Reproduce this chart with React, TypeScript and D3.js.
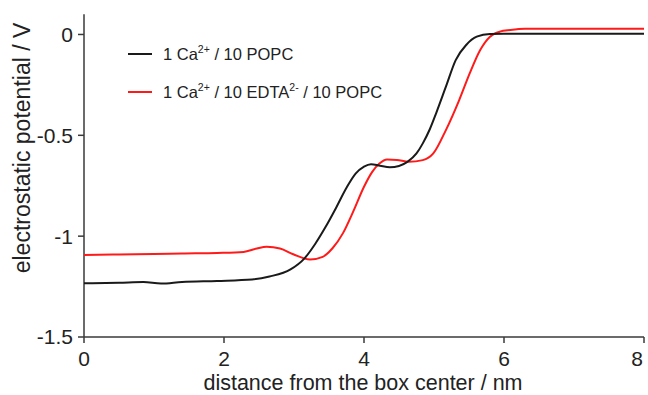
import React from "react";
import * as d3 from "d3";

const blackX = [0, 0.5, 0.85, 1.1, 1.4, 1.9, 2.4, 2.65, 2.95, 3.15, 3.3, 3.45, 3.6, 3.75, 3.88, 4.0, 4.1, 4.23, 4.37, 4.5, 4.62, 4.75, 4.84, 4.94, 5.03, 5.17, 5.31, 5.46, 5.61, 5.8, 6.0, 8];
const blackY = [-1.234, -1.231, -1.227, -1.235, -1.227, -1.222, -1.215, -1.2, -1.165, -1.11, -1.04, -0.955, -0.86, -0.76, -0.69, -0.655, -0.643, -0.651, -0.658, -0.652, -0.632, -0.59, -0.54, -0.47, -0.391, -0.259, -0.127, -0.052, -0.011, 0.002, 0.003, 0.003];

const redX = [0, 0.5, 1.0, 1.4, 1.9, 2.28, 2.47, 2.61, 2.8, 2.99, 3.23, 3.41, 3.55, 3.7, 3.85, 4.0, 4.12, 4.22, 4.33, 4.47, 4.64, 4.84, 4.99, 5.17, 5.36, 5.51, 5.66, 5.8, 5.94, 6.09, 6.3, 8];
const redY = [-1.094, -1.091, -1.089, -1.086, -1.083, -1.078, -1.061, -1.053, -1.061, -1.09, -1.116, -1.103, -1.06, -0.985, -0.875, -0.755, -0.68, -0.64, -0.62, -0.622, -0.631, -0.623, -0.59, -0.474, -0.325, -0.193, -0.077, -0.011, 0.014, 0.022, 0.028, 0.028];

const xTicks = [0, 2, 4, 6, 8];
const xTickLabels = ["0", "2", "4", "6", "8"];
const yTicks = [0, -0.5, -1, -1.5];
const yTickLabels = ["0", "-0.5", "-1", "-1.5"];

const xTitle = "distance from the box center / nm";
const yTitle = "electrostatic potential / V";

const W = 648;
const H = 395;
const FONT = "'Liberation Sans', Arial, sans-serif";

export default function App() {
  const x = d3.scaleLinear().domain([0, 8]).range([84, 644]);
  const y = d3.scaleLinear().domain([-1.5, 0.1]).range([337, 14.3]);
  const line = d3
    .line<[number, number]>()
    .x((d) => x(d[0]))
    .y((d) => y(d[1]))
    .curve(d3.curveMonotoneX);

  const blackPts = blackX.map((v, i) => [v, blackY[i]] as [number, number]);
  const redPts = redX.map((v, i) => [v, redY[i]] as [number, number]);
  const axisColor = "#3a3a3a";
  const y0 = y(-1.5);

  return (
    <svg
      width={W}
      height={H}
      style={{ position: "absolute", left: 0, top: 0, background: "#fff" }}
      fontFamily={FONT}
    >
      <rect width={W} height={H} fill="#fff" />
      {/* axes */}
      <line x1={x(0)} x2={x(0)} y1={y(0.1)} y2={y0} stroke={axisColor} strokeWidth={1.5} />
      <line x1={x(0)} x2={x(8)} y1={y0} y2={y0} stroke={axisColor} strokeWidth={1.5} />
      {yTicks.map((t, i) => (
        <g key={"y" + i}>
          <line x1={x(0) - 6} x2={x(0)} y1={y(t)} y2={y(t)} stroke={axisColor} strokeWidth={1.5} />
          <text x={x(0) - 11} y={y(t)} dy="0.35em" textAnchor="end" fontSize={21} fill="#222">
            {yTickLabels[i]}
          </text>
        </g>
      ))}
      {xTicks.map((t, i) => (
        <g key={"x" + i}>
          <line x1={x(t)} x2={x(t)} y1={y0} y2={y0 + 6} stroke={axisColor} strokeWidth={1.5} />
          <text x={Math.min(x(t), 637)} y={y0 + 22} dy="0.35em" textAnchor="middle" fontSize={21} fill="#222">
            {xTickLabels[i]}
          </text>
        </g>
      ))}
      <text x={(x(0) + x(8)) / 2 - 1} y={382} dy="0.35em" textAnchor="middle" fontSize={21.5} fill="#222">
        {xTitle}
      </text>
      <text
        transform={`translate(22, 148) rotate(-90)`}
        dy="0.35em"
        textAnchor="middle"
        fontSize={23}
        fill="#222"
      >
        {yTitle}
      </text>

      {/* curves */}
      <path d={line(redPts) || ""} fill="none" stroke="#ff1a1a" strokeWidth={2} />
      <path d={line(blackPts) || ""} fill="none" stroke="#1a1a1a" strokeWidth={2} />

      {/* legend */}
      <line x1={128} x2={152} y1={54} y2={54} stroke="#1a1a1a" strokeWidth={2} />
      <text x={163} y={60} fontSize={16.5} fill="#222">
        1 Ca<tspan fontSize={10.5} dy={-7}>2+</tspan>
        <tspan dy={7}> / 10 POPC</tspan>
      </text>
      <line x1={128} x2={152} y1={92} y2={92} stroke="#ff1a1a" strokeWidth={2} />
      <text x={163} y={98} fontSize={16.5} fill="#222">
        1 Ca<tspan fontSize={10.5} dy={-7}>2+</tspan>
        <tspan dy={7}> / 10 EDTA</tspan>
        <tspan fontSize={10.5} dy={-7}>2-</tspan>
        <tspan dy={7}> / 10 POPC</tspan>
      </text>
    </svg>
  );
}
